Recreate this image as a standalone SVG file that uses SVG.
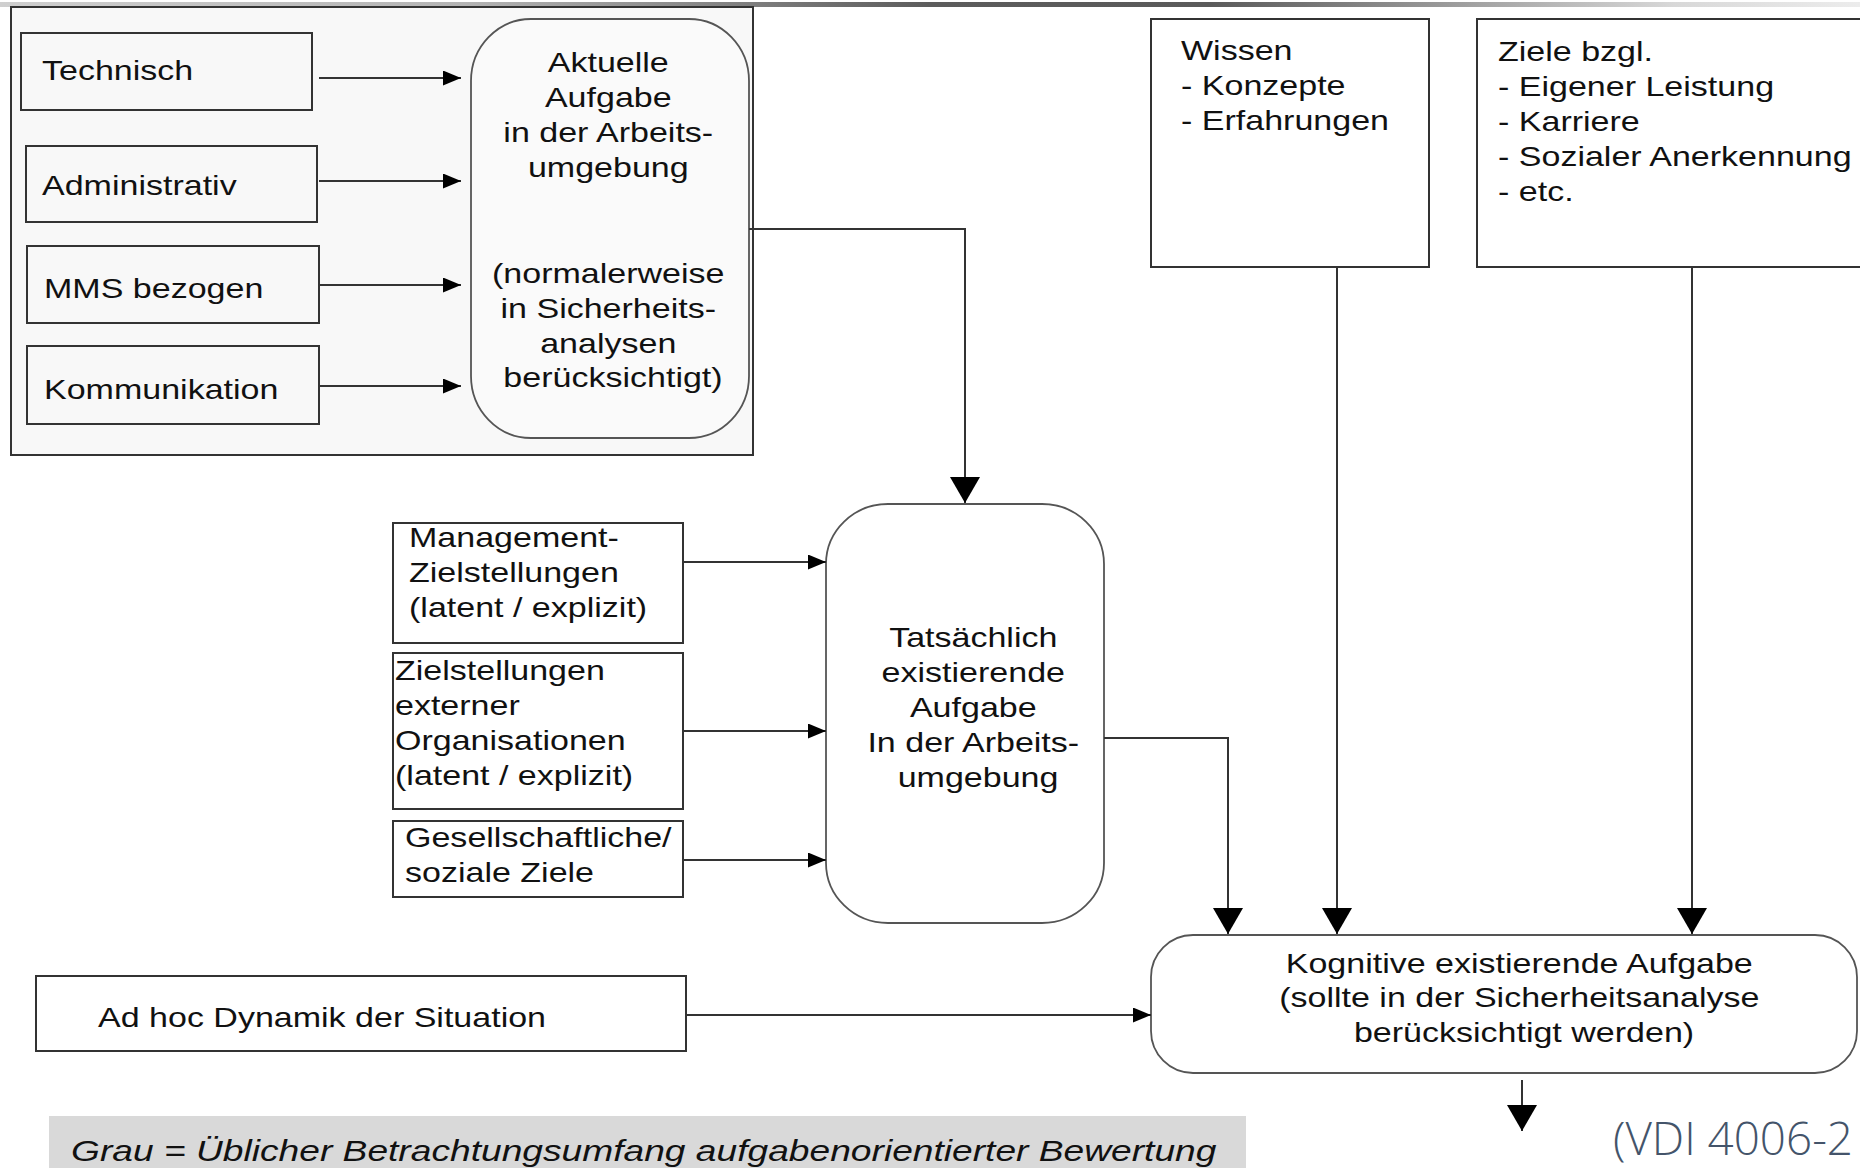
<svg xmlns="http://www.w3.org/2000/svg" width="1860" height="1168" viewBox="0 0 1860 1168">
<defs>
<linearGradient id="topbar" x1="0" y1="0" x2="1" y2="0">
<stop offset="0" stop-color="#cfcfcf"/>
<stop offset="0.25" stop-color="#b4b4b4"/>
<stop offset="0.5" stop-color="#5c5c5c"/>
<stop offset="0.65" stop-color="#5a5a5a"/>
<stop offset="0.9" stop-color="#d8d8d8"/>
<stop offset="1" stop-color="#ececec"/>
</linearGradient>
<marker id="sa" markerUnits="userSpaceOnUse" markerWidth="18" markerHeight="16" refX="18" refY="7.5" orient="auto">
<path d="M0,0 L18,7.5 L0,15 z" fill="#000"/>
</marker>
<marker id="ba" markerUnits="userSpaceOnUse" markerWidth="26" markerHeight="30" refX="26" refY="15" orient="auto">
<path d="M0,0 L26,15 L0,30 z" fill="#000"/>
</marker>
</defs>
<style>
.box{fill:#fff;stroke:#333;stroke-width:2}
.ibox{fill:none;stroke:#333;stroke-width:2}
.rbox{fill:#fff;stroke:#555;stroke-width:1.8}
.t{font-family:"Liberation Sans",Arial,sans-serif;font-size:27px;fill:#111}
.c{text-anchor:middle}
.ln{fill:none;stroke:#333;stroke-width:2}
</style>
<rect x="0" y="0" width="1860" height="1168" fill="#fff"/>
<rect x="0" y="2" width="1860" height="5" fill="url(#topbar)"/>

<g id="grau-bereich">
<rect x="11" y="7" width="742" height="448" fill="#f8f8f8" stroke="#333" stroke-width="2"/>
</g>

<g id="technisch">
<rect class="ibox" x="21" y="33" width="291" height="77"/>
<text class="t" transform="matrix(1.26 0 0 1 42 80)">Technisch</text>
</g>
<g id="administrativ">
<rect class="ibox" x="26" y="146" width="291" height="76"/>
<text class="t" transform="matrix(1.26 0 0 1 42 195)">Administrativ</text>
</g>
<g id="mms">
<rect class="ibox" x="27" y="246" width="292" height="77"/>
<text class="t" transform="matrix(1.26 0 0 1 44 298)">MMS bezogen</text>
</g>
<g id="kommunikation">
<rect class="ibox" x="27" y="346" width="292" height="78"/>
<text class="t" transform="matrix(1.26 0 0 1 44 399)">Kommunikation</text>
</g>
<g id="aktuelle-aufgabe">
<rect x="471" y="19" width="278" height="419" rx="60" ry="62" fill="#fafafa" stroke="#555" stroke-width="1.8"/>
<text class="t c" transform="matrix(1.26 0 0 1 613 0)">
<tspan x="0" y="72">Aktuelle</tspan>
<tspan x="0" y="107">Aufgabe</tspan>
<tspan x="0" y="142">in der Arbeits-</tspan>
<tspan x="0" y="177">umgebung</tspan>
<tspan x="0" y="283">(normalerweise</tspan>
<tspan x="0" y="318">in Sicherheits-</tspan>
<tspan x="0" y="353">analysen</tspan>
<tspan x="0" y="387">berücksichtigt)</tspan>
</text>
</g>

<g id="wissen">
<rect class="box" x="1151" y="19" width="278" height="248"/>
<text class="t" transform="matrix(1.26 0 0 1 1181 0)">
<tspan x="0" y="60">Wissen</tspan>
<tspan x="0" y="95">- Konzepte</tspan>
<tspan x="0" y="130">- Erfahrungen</tspan>
</text>
</g>
<g id="ziele">
<rect class="box" x="1477" y="19" width="390" height="248"/>
<text class="t" transform="matrix(1.26 0 0 1 1498 0)">
<tspan x="0" y="61">Ziele bzgl.</tspan>
<tspan x="0" y="96">- Eigener Leistung</tspan>
<tspan x="0" y="131">- Karriere</tspan>
<tspan x="0" y="166">- Sozialer Anerkennung</tspan>
<tspan x="0" y="201">- etc.</tspan>
</text>
</g>

<g id="management">
<rect class="box" x="393" y="523" width="290" height="120"/>
<text class="t" transform="matrix(1.26 0 0 1 409 0)">
<tspan x="0" y="547">Management-</tspan>
<tspan x="0" y="582">Zielstellungen</tspan>
<tspan x="0" y="617">(latent / explizit)</tspan>
</text>
</g>
<g id="externe">
<rect class="box" x="393" y="653" width="290" height="156"/>
<text class="t" transform="matrix(1.26 0 0 1 395 0)">
<tspan x="0" y="680">Zielstellungen</tspan>
<tspan x="0" y="715">externer</tspan>
<tspan x="0" y="750">Organisationen</tspan>
<tspan x="0" y="785">(latent / explizit)</tspan>
</text>
</g>
<g id="gesellschaft">
<rect class="box" x="393" y="821" width="290" height="76"/>
<text class="t" transform="matrix(1.26 0 0 1 405 0)">
<tspan x="0" y="847">Gesellschaftliche/</tspan>
<tspan x="0" y="882">soziale Ziele</tspan>
</text>
</g>
<g id="tatsaechlich">
<rect class="rbox" x="826" y="504" width="278" height="419" rx="62" ry="60"/>
<text class="t c" transform="matrix(1.26 0 0 1 978 0)">
<tspan x="0" y="647">Tatsächlich</tspan>
<tspan x="0" y="682">existierende</tspan>
<tspan x="0" y="717">Aufgabe</tspan>
<tspan x="0" y="752">In der Arbeits-</tspan>
<tspan x="0" y="787">umgebung</tspan>
</text>
</g>

<g id="adhoc">
<rect class="box" x="36" y="976" width="650" height="75"/>
<text class="t" transform="matrix(1.26 0 0 1 98 1027)">Ad hoc Dynamik der Situation</text>
</g>
<g id="kognitive">
<rect class="rbox" x="1151" y="935" width="706" height="138" rx="42" ry="42"/>
<text class="t c" transform="matrix(1.26 0 0 1 1524 0)">
<tspan x="0" y="973">Kognitive  existierende Aufgabe</tspan>
<tspan x="0" y="1007">(sollte in der Sicherheitsanalyse</tspan>
<tspan x="0" y="1042">berücksichtigt werden)</tspan>
</text>
</g>

<g id="legende">
<rect x="49" y="1116" width="1197" height="60" fill="#d9d9d9"/>
<text transform="matrix(1.26 0 0 1 71 1161)" font-family="Liberation Sans, Arial, sans-serif" font-size="29.5" font-style="italic" fill="#111">Grau = Üblicher Betrachtungsumfang aufgabenorientierter Bewertung</text>
</g>
<g id="quelle">
<text x="1613" y="1155" font-family="Open Sans, Noto Sans, sans-serif" font-weight="300" font-size="46" fill="#44546a" textLength="240" lengthAdjust="spacingAndGlyphs">(VDI 4006-2</text>
</g>

<g id="connectors">
<path class="ln" d="M319,78 H461" marker-end="url(#sa)"/>
<path class="ln" d="M319,181 H461" marker-end="url(#sa)"/>
<path class="ln" d="M319,285 H461" marker-end="url(#sa)"/>
<path class="ln" d="M319,386 H461" marker-end="url(#sa)"/>
<path class="ln" d="M749,229 H965 V503" marker-end="url(#ba)"/>
<path class="ln" d="M684,562 H826" marker-end="url(#sa)"/>
<path class="ln" d="M684,731 H826" marker-end="url(#sa)"/>
<path class="ln" d="M684,860 H826" marker-end="url(#sa)"/>
<path class="ln" d="M1104,738 H1228 V934" marker-end="url(#ba)"/>
<path class="ln" d="M1337,267 V934" marker-end="url(#ba)"/>
<path class="ln" d="M1692,267 V934" marker-end="url(#ba)"/>
<path class="ln" d="M686,1015 H1151" marker-end="url(#sa)"/>
<path class="ln" d="M1522,1080 V1131" marker-end="url(#ba)"/>
</g>
</svg>
